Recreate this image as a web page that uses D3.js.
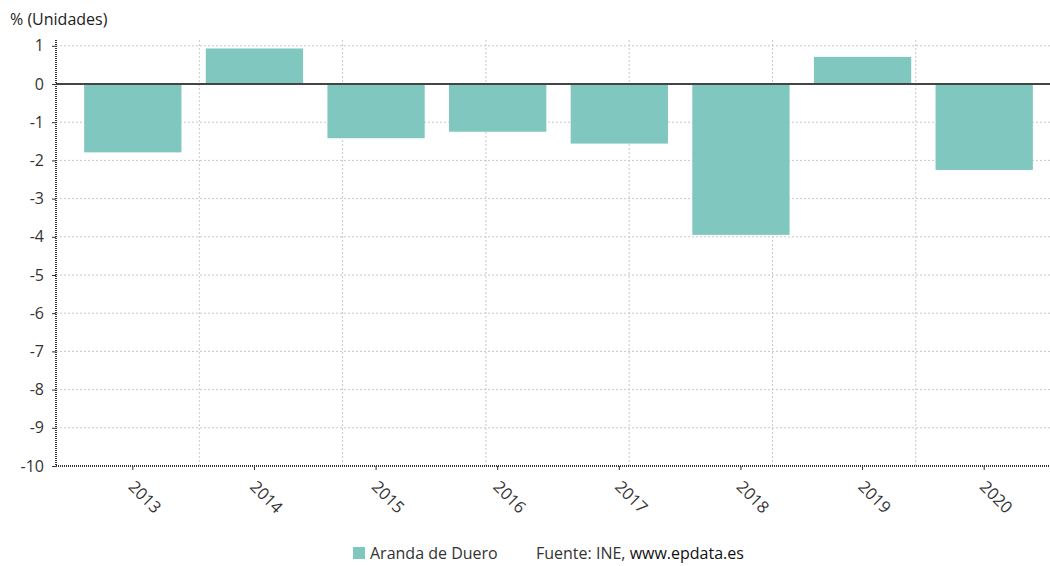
<!DOCTYPE html>
<html><head><meta charset="utf-8">
<script src="https://cdn.jsdelivr.net/npm/d3@7"></script>
<style>
body{margin:0;background:#fff;}
text{font-family:"Open Sans",sans-serif;}
</style></head>
<body><svg id="c" width="1050" height="566"></svg>
<script>
const years = ["2013","2014","2015","2016","2017","2018","2019","2020"];
const values = [-1.79, 0.93, -1.42, -1.25, -1.56, -3.95, 0.71, -2.25];
const yTicks = [1,0,-1,-2,-3,-4,-5,-6,-7,-8,-9,-10];
const seriesName = "Aranda de Duero";
const unitLabel = "% (Unidades)";

const svg = d3.select("#c");
const L = 56, R = 1050, T = 40, B = 466;
const y = d3.scaleLinear().domain([-10, 1]).range([B, 84 - 38.2]);
const x = d3.scaleBand().domain(years).range([72, 1045]).paddingInner(0.2).paddingOuter(0.1);
const xg = d3.scaleLinear().domain([0, 7]).range([L, L + 7 * 143.3]);

// horizontal grid
svg.append("g").selectAll("line").data(yTicks.filter(d => d !== 0 && d !== -10)).join("line")
  .attr("x1", L).attr("x2", R).attr("y1", d => y(d)).attr("y2", d => y(d))
  .attr("stroke", "#c8c8c8").attr("stroke-width", 1).attr("stroke-dasharray", "2,2");
// vertical grid
svg.append("g").selectAll("line").data(d3.range(1, 7)).join("line")
  .attr("x1", d => xg(d)).attr("x2", d => xg(d)).attr("y1", T).attr("y2", B)
  .attr("stroke", "#c8c8c8").attr("stroke-width", 1).attr("stroke-dasharray", "2,2");

// bars
svg.append("g").selectAll("rect").data(years).join("rect")
  .attr("x", d => x(d)).attr("width", x.bandwidth())
  .attr("y", (d, i) => y(Math.max(0, values[i])))
  .attr("height", (d, i) => Math.abs(y(values[i]) - y(0)))
  .attr("fill", "#80c7bf");

// zero line
svg.append("line").attr("x1", L).attr("x2", R).attr("y1", y(0)).attr("y2", y(0))
  .attr("stroke", "#444").attr("stroke-width", 2);

// y axis
const ya = svg.append("g").attr("transform", `translate(${L},0)`)
  .call(d3.axisLeft(y).tickValues(yTicks).tickSize(4).tickPadding(8).tickFormat(d => String(d)));
ya.select(".domain").remove();
ya.selectAll(".tick line").attr("stroke", "#333");
ya.selectAll("text").attr("font-size", 16).attr("fill", "#333");
svg.append("line").attr("x1", L).attr("x2", L).attr("y1", T).attr("y2", B + 1)
  .attr("stroke", "#333").attr("stroke-width", 2).attr("stroke-dasharray", "1,1");

// x axis
const xa = svg.append("g").attr("transform", `translate(0,${B})`)
  .call(d3.axisBottom(x).tickSize(4).tickPadding(6));
xa.select(".domain").remove();
xa.selectAll(".tick line").attr("stroke", "#333");
xa.selectAll("text").attr("font-size", 16.5).attr("fill", "#333")
  .attr("text-anchor", "middle").attr("dy", 0)
  .attr("transform", "translate(15,28) rotate(45)");
svg.append("line").attr("x1", L).attr("x2", R).attr("y1", B).attr("y2", B)
  .attr("stroke", "#333").attr("stroke-width", 2).attr("stroke-dasharray", "1,1");

// title
svg.append("text").attr("x", 10).attr("y", 25).attr("font-size", 16).attr("fill", "#222").text(unitLabel);

// legend
svg.append("rect").attr("x", 353).attr("y", 547).attr("width", 12).attr("height", 12).attr("fill", "#80c7bf");
svg.append("text").attr("x", 370).attr("y", 559).attr("font-size", 16).attr("fill", "#333").text(seriesName);
const src = svg.append("text").attr("x", 536).attr("y", 559).attr("font-size", 16).attr("fill", "#333");
src.append("tspan").text("Fuente: INE, ");
src.append("tspan").attr("fill", "#111").text("www.epdata.es");
</script></body></html>
